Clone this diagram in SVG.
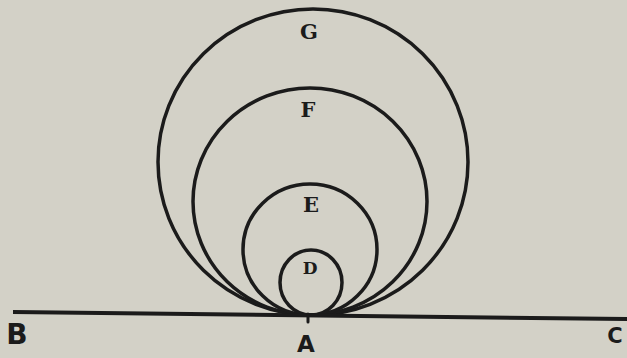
<svg xmlns="http://www.w3.org/2000/svg" width="627" height="358" viewBox="0 0 627 358">
<style>
.ink{fill:none;stroke:#1b1b1b;stroke-width:3.5}
.lbl{font-family:"DejaVu Serif","Liberation Serif",serif;font-weight:bold;fill:#1b1b1b;text-anchor:middle}
.pt{font-family:"DejaVu Sans","Liberation Sans",sans-serif;font-weight:bold;fill:#1b1b1b;text-anchor:middle}
</style>
<rect width="627" height="358" fill="#d3d1c7"/>
<g id="circle-G">
<ellipse class="ink" cx="313" cy="162" rx="155" ry="153"/>
<text class="lbl" x="309" y="39" font-size="21">G</text>
</g>
<g id="circle-F">
<ellipse class="ink" cx="310" cy="201.5" rx="117" ry="113.5"/>
<text class="lbl" x="308" y="117" font-size="21">F</text>
</g>
<g id="circle-E">
<ellipse class="ink" cx="310" cy="249.5" rx="67" ry="65.5"/>
<text class="lbl" x="311" y="212" font-size="21">E</text>
</g>
<g id="circle-D">
<ellipse class="ink" cx="311" cy="282.5" rx="31" ry="32.5"/>
<text class="lbl" x="310" y="274" font-size="17">D</text>
</g>
<g id="connectors">
<line x1="13" y1="312" x2="627" y2="319" stroke="#1b1b1b" stroke-width="4"/>
<line x1="308" y1="314" x2="308" y2="322" stroke="#1b1b1b" stroke-width="3" stroke-linecap="round"/>
</g>
<g id="point-B"><text class="pt" x="17" y="344" font-size="28">B</text></g>
<g id="point-A"><text class="pt" x="306" y="352" font-size="23">A</text></g>
<g id="point-C"><text class="pt" x="615" y="343" font-size="21">C</text></g>
</svg>
